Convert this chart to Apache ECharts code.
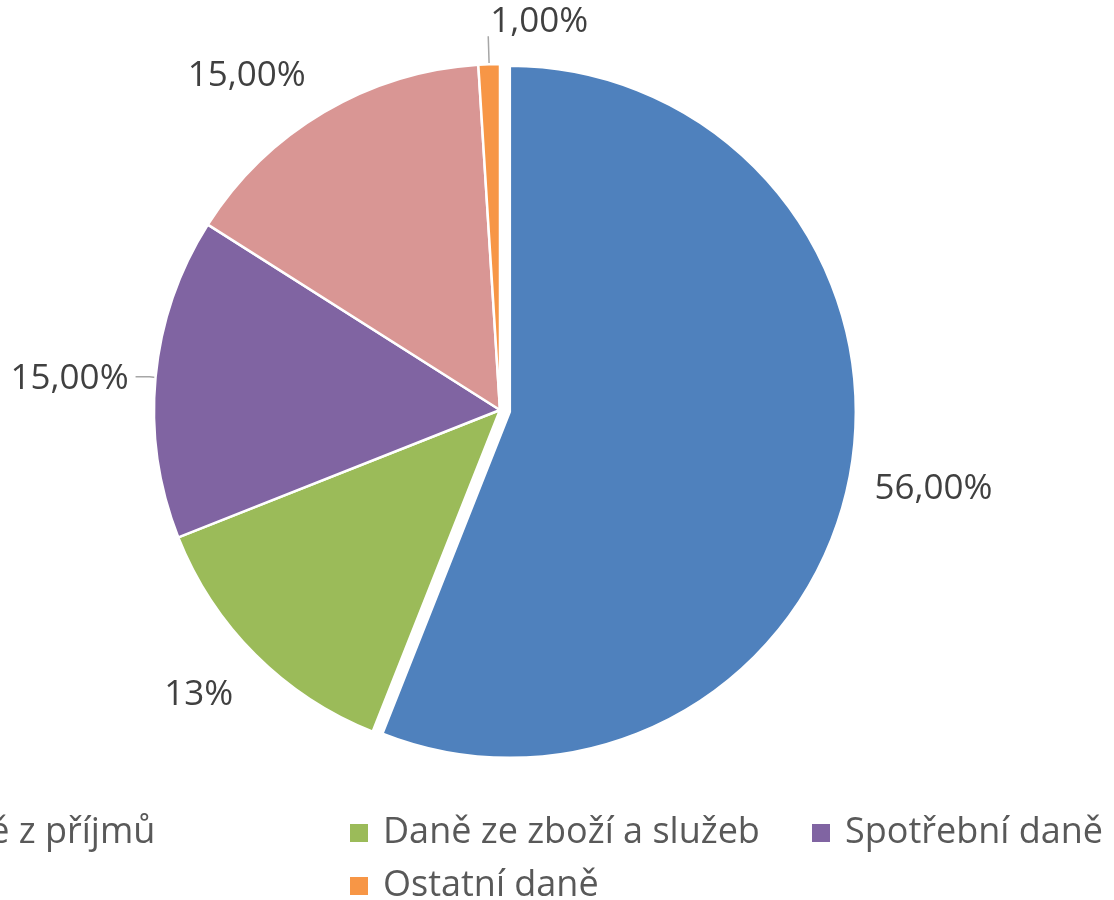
<!DOCTYPE html>
<html>
<head>
<meta charset="utf-8">
<script src="https://cdn.jsdelivr.net/npm/echarts@6/dist/echarts.min.js"></script>
<style>
html,body{margin:0;padding:0;background:#fff;}
#c{width:1114px;height:900px;}
</style>
</head>
<body>
<div id="c"></div>
<script>
// ---- data ----
const categories = ['Daně z příjmů', 'Daně ze zboží a služeb', 'Spotřební daně', 'Majetkové daně', 'Ostatní daně'];
const values = [56, 13, 15, 15, 1];
const decimals = [2, 0, 2, 2, 2];
const legendRow1 = ['Daně z příjmů', 'Daně ze zboží a služeb', 'Spotřební daně'];
const legendRow2 = ['Ostatní daně'];

// ---- styles ----
const colors = ['#4F81BD', '#9BBB59', '#8064A2', '#D99694', '#F79646'];
const lineCfg = [
  { show: false, length: 10, length2: 0 },
  { show: false, length: 20, length2: 0 },
  { show: true, length: 6, length2: 14 },
  { show: false, length: 10, length2: 0 },
  { show: true, length: 28, length2: 0 }
];
const labelShift = [
  { dx: 10, dy: 10 },
  { dx: -3, dy: 26 },
  { dx: -2, dy: 2 },
  { dx: -8, dy: -28 },
  { dx: 7, dy: -14, align: 'left' }
];

const FONT = '"Open Sans", "Noto Sans", sans-serif';

const chart = echarts.init(document.getElementById('c'), null, { renderer: 'canvas' });

const data = categories.map((name, i) => ({
  name: name,
  value: values[i],
  selected: i === 0,
  itemStyle: { color: colors[i] },
  labelLine: lineCfg[i]
}));

const legendCommon = {
  orient: 'horizontal',
  icon: 'rect',
  itemWidth: 18,
  itemHeight: 18,
  itemGap: 10,
  padding: 0,
  selectedMode: false,
  itemStyle: { borderWidth: 0 },
  textStyle: {
    fontFamily: FONT,
    fontSize: 36,
    color: '#595959',
    width: 419,
    lineHeight: 40,
    padding: [0, 0, 0, 10]
  }
};

chart.setOption({
  animation: false,
  backgroundColor: '#ffffff',
  color: colors,
  legend: [
    Object.assign({}, legendCommon, { data: legendRow1, left: -112, top: 813, width: 1600 }),
    Object.assign({}, legendCommon, { data: legendRow2, left: 350, top: 866 })
  ],
  series: [{
    type: 'pie',
    center: [500, 410],
    radius: 346,
    startAngle: 90,
    clockwise: true,
    avoidLabelOverlap: false,
    selectedMode: 'single',
    selectedOffset: 10,
    itemStyle: { borderColor: '#ffffff', borderWidth: 2.5 },
    select: { itemStyle: { borderColor: '#ffffff', borderWidth: 2.5 } },
    emphasis: { disabled: true },
    label: {
      show: true,
      position: 'outside',
      fontFamily: FONT,
      fontSize: 35,
      color: '#404040',
      distanceToLabelLine: 5,
      formatter: function (p) {
        return values[p.dataIndex].toFixed(decimals[p.dataIndex]).replace('.', ',') + '%';
      }
    },
    labelLine: {
      lineStyle: { color: '#A6A6A6', width: 1.5 }
    },
    labelLayout: function (p) {
      const s = labelShift[p.dataIndex];
      const out = { dx: s.dx, dy: s.dy };
      if (s.align) out.align = s.align;
      if (p.labelLinePoints) out.labelLinePoints = p.labelLinePoints;
      return out;
    },
    data: data
  }]
});
</script>
</body>
</html>
